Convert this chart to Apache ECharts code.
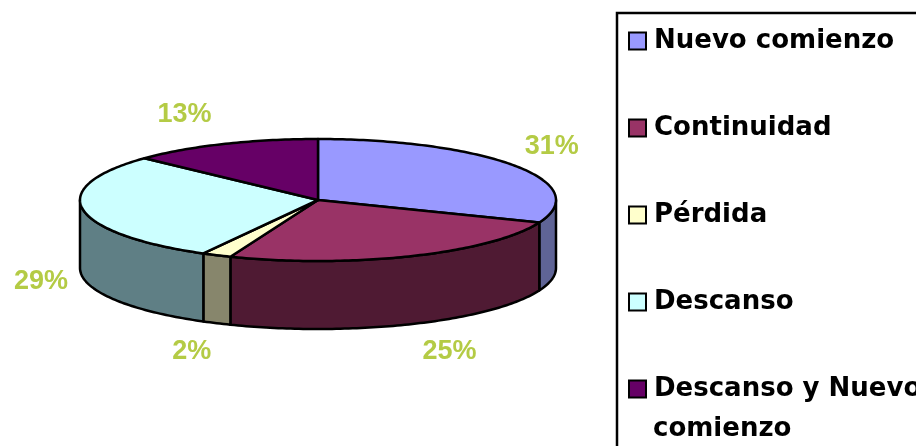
<!DOCTYPE html>
<html>
<head>
<meta charset="utf-8">
<style>
html, body { margin: 0; padding: 0; background: #fff; }
#chart-container { width: 916px; height: 446px; }
</style>
<script src="https://cdn.jsdelivr.net/npm/echarts@6/dist/echarts.min.js"></script>
</head>
<body>
<div id="chart-container"></div>
<script>
const categories = ['Nuevo comienzo', 'Continuidad', 'Pérdida', 'Descanso', 'Descanso y Nuevo comienzo'];
const percentages = [31, 25, 2, 29, 13];
const topColors = ['#9999FF', '#993366', '#FFFFCC', '#CCFFFF', '#660066'];
const wallColors = ['#5F6496', '#4F1A33', '#87866C', '#5F7F85', '#330033'];
// how far each label sits from the rim of its slice
const labelNudge = [[37, -19], [37, 28], [-25, 28], [-42, 4], [-39, -29]];

const cx = 318, cy = 200, rx = 238, ry = 61, depth = 68;
const total = percentages.reduce((a, b) => a + b, 0);

function rim(deg, drop) {
    let t = deg * Math.PI / 180;
    return [cx + rx * Math.sin(t), cy - ry * Math.cos(t) + (drop || 0)];
}

function arc(from, to, drop) {
    let pts = [];
    let steps = Math.max(2, Math.ceil(Math.abs(to - from)));
    for (let i = 0; i <= steps; i++) {
        pts.push(rim(from + (to - from) * i / steps, drop));
    }
    return pts;
}

function renderSlice(params, api) {
    let idx = params.seriesIndex;
    let before = percentages.slice(0, idx).reduce((a, b) => a + b, 0);
    let start = before / total * 360;
    let end = start + api.value(0) / total * 360;
    let children = [];

    // side wall, only the front half of the disc shows
    let wallFrom = Math.max(start, 90);
    let wallTo = Math.min(end, 270);
    if (wallTo > wallFrom) {
        children.push({
            type: 'polygon',
            shape: { points: arc(wallFrom, wallTo, 0).concat(arc(wallTo, wallFrom, depth)) },
            style: { fill: wallColors[idx], stroke: '#000', lineWidth: 2.5, lineJoin: 'round' }
        });
    }

    children.push({
        type: 'polygon',
        shape: { points: [[cx, cy]].concat(arc(start, end, 0)) },
        style: { fill: topColors[idx], stroke: '#000', lineWidth: 2.5, lineJoin: 'round' }
    });

    let mid = (start + end) / 2;
    let anchor = rim(mid, Math.cos(mid * Math.PI / 180) < 0 ? depth : 0);
    children.push({
        type: 'text',
        style: {
            text: api.value(0) + '%',
            x: anchor[0] + labelNudge[idx][0],
            y: anchor[1] + labelNudge[idx][1],
            align: 'center',
            verticalAlign: 'middle',
            fill: '#B4CB45',
            font: 'bold 27px "Liberation Sans"'
        }
    });

    return { type: 'group', children: children };
}

var dom = document.getElementById('chart-container');
var myChart = echarts.init(dom, null, { renderer: 'canvas' });

var option = {
    animation: false,
    backgroundColor: '#fff',
    legend: {
        orient: 'vertical',
        left: 628,
        top: 28,
        padding: 0,
        selectedMode: false,
        icon: 'rect',
        itemWidth: 17,
        itemHeight: 17,
        itemGap: 61,
        data: categories,
        // the last entry wraps, its second line is the text in graphic below
        formatter: (name) => name === categories[4] ? 'Descanso y Nuevo' : name,
        itemStyle: { borderColor: '#000', borderWidth: 2 },
        textStyle: {
            color: '#000',
            fontFamily: 'DejaVu Sans',
            fontWeight: 'bold',
            fontSize: 26,
            padding: [0, 0, 0, 3]
        }
    },
    graphic: [
        {
            type: 'rect',
            z: -1,
            shape: { x: 617, y: 13, width: 340, height: 470 },
            style: { fill: '#fff', stroke: '#000', lineWidth: 2.5 }
        },
        {
            type: 'text',
            z: 10,
            style: {
                text: 'comienzo',
                x: 653,
                y: 429,
                verticalAlign: 'middle',
                fill: '#000',
                font: 'bold 26px "DejaVu Sans"'
            }
        }
    ],
    series: categories.map((name, i) => ({
        type: 'custom',
        name: name,
        coordinateSystem: 'none',
        silent: true,
        itemStyle: { color: topColors[i] },
        renderItem: renderSlice,
        data: [[percentages[i]]]
    }))
};

myChart.setOption(option);
window.addEventListener('resize', myChart.resize);
</script>
</body>
</html>
